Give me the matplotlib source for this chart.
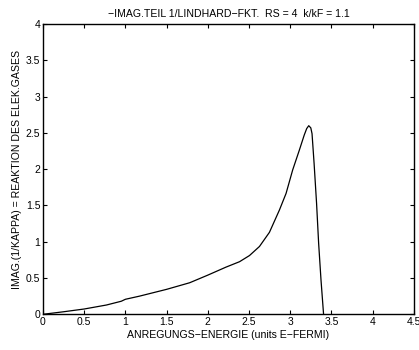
import matplotlib
matplotlib.use('Agg')
import matplotlib.pyplot as plt

plt.rcParams['font.family'] = ['Liberation Sans', 'DejaVu Sans']

# Curve
energy = [0, 0.25, 0.5, 0.77, 0.95, 1.0, 1.17, 1.5, 1.78, 2.0, 2.22, 2.385, 2.506, 2.627,
          2.748, 2.869, 2.95, 3.03, 3.11, 3.17, 3.2, 3.225, 3.25, 3.265, 3.29, 3.32, 3.345,
          3.374, 3.405]
response = [0, 0.035, 0.073, 0.128, 0.18, 0.207, 0.25, 0.344, 0.435, 0.54, 0.65, 0.725, 0.81, 0.935,
            1.13, 1.437, 1.667, 1.99, 2.26, 2.47, 2.56, 2.60, 2.57, 2.49, 2.08, 1.53, 0.98,
            0.47, 0.0]

xticks = [0, 0.5, 1, 1.5, 2, 2.5, 3, 3.5, 4, 4.5]
yticks = [0, 0.5, 1, 1.5, 2, 2.5, 3, 3.5, 4]

fig = plt.figure(figsize=(4.19, 3.5), dpi=100)
ax = fig.add_axes([0.1026, 0.102, 0.885, 0.829])

ax.plot(energy, response, color='black', linewidth=0.9)

ax.set_xlim(0, 4.5)
ax.set_ylim(0, 4)
ax.set_xticks(xticks)
ax.set_xticklabels(['0', '0.5', '1', '1.5', '2', '2.5', '3', '3.5', '4', '4.5'])
ax.set_yticks(yticks)
ax.set_yticklabels(['0', '0.5', '1', '1.5', '2', '2.5', '3', '3.5', '4'])
ax.tick_params(direction='in', top=True, right=True, labelsize=7.5, length=3, width=0.8, pad=2)
for s in ax.spines.values():
    s.set_linewidth(1.0)

ax.set_title('\u2212IMAG.TEIL 1/LINDHARD\u2212FKT.  RS = 4  k/kF = 1.1', fontsize=7.6, pad=5)
ax.set_xlabel('ANREGUNGS\u2212ENERGIE (units E\u2212FERMI)', fontsize=7.6, labelpad=2)
ax.set_ylabel('IMAG.(1/KAPPA) = REAKTION DES ELEK.GASES', fontsize=7.6, labelpad=3)

fig.savefig('out.png', dpi=100)
